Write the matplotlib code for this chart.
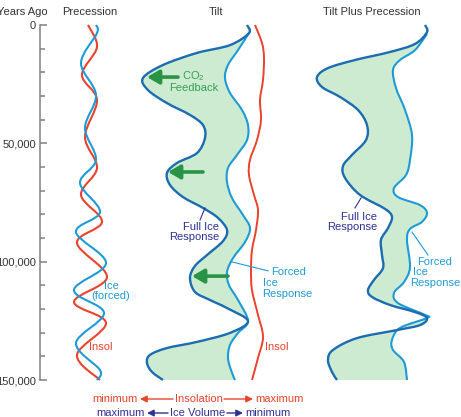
import numpy as np
import matplotlib
matplotlib.use("Agg")
import matplotlib.pyplot as plt
from matplotlib.path import Path
from matplotlib.patches import PathPatch

# ---- data: years ago in thousands, x = relative amount inside each panel ----
# Precession panel
prec_ice_kyr = [0, 3.4, 16.1, 29.6, 43.5, 57.0, 66.8, 79.0, 87.5, 100.6, 112.0, 121.7, 134.4, 145.8, 150]
prec_ice_val = [36, 37, 21, 36, 25, 36, 20, 40, 16, 46, 14, 44, 16, 40, 37]
prec_insol_kyr = [0, 9.3, 21.1, 31.7, 47.3, 60.4, 71.8, 83.2, 92.1, 106.5, 117.0, 125.9, 139.4, 150]
prec_insol_val = [28, 37, 22, 37, 25, 37, 21, 42, 17, 47, 14, 46, 17, 40]

# Tilt panel
tilt_full_kyr = [0, 3.4, 8.5, 11.8, 16.9, 22.4, 27.5, 33.0, 38.0, 42.3, 47.7, 54.1, 58.3, 62.5,
                 67.6, 72.7, 77.3, 81.5, 86.6, 91.3, 97.2, 101.8, 106.9, 112.8, 116.2, 119.6,
                 125.1, 130.1, 133.9, 136.5, 139.4, 142.8, 146.6, 150]
tilt_full_val = [117, 119, 100, 67, 33, 13, 18, 37, 60, 73, 75, 67, 47, 37,
                 40, 53, 73, 88, 97, 93, 77, 65, 60, 65, 80, 97,
                 118, 100, 67, 37, 20, 17, 22, 33]
tilt_forced_kyr = [3.4, 10.6, 16.9, 22.4, 28.7, 35.9, 42.3, 48.6, 54.9, 60.4, 66.3, 73.1, 80.3,
                   85.8, 91.7, 98.5, 104.4, 109.9, 116.2, 125.1, 130.1, 135.2, 140.7, 145.8, 150]
tilt_forced_val = [119, 108, 98, 95, 100, 112, 118, 117, 107, 98, 97, 102, 113,
                   120, 115, 103, 97, 99, 108, 118, 108, 100, 98, 101, 105]
tilt_insol_kyr = [0, 7.6, 13.9, 23.2, 31.7, 40.1, 48.6, 57.0, 63.4, 71.8, 78.2, 86.6, 95.1,
                  103.5, 112.0, 122.5, 131.8, 140.7, 150]
tilt_insol_val = [125, 132, 134, 133, 130, 131, 127, 120, 119, 124, 128, 126, 122,
                  121, 122, 128, 133, 128, 122]
co2_arrow_kyr = [22.0, 62.1, 106.1]
co2_arrow_tip = [17, 38, 62]
co2_arrow_tail = [48, 73, 98]

# Tilt plus precession panel
both_full_kyr = [0, 3.0, 8.0, 11.4, 14.8, 18.2, 22.0, 26.2, 30.4, 35.9, 42.3, 48.6, 54.9, 59.6,
                 64.6, 71.8, 77.7, 81.1, 85.8, 90.8, 97.2, 102.7, 107.7, 112.0, 114.9, 118.3,
                 121.3, 123.8, 126.8, 128.9, 132.3, 137.3, 141.6, 146.6, 150]
both_full_val = [125, 127, 115, 90, 55, 28, 17, 22, 40, 58, 67, 66, 52, 43,
                 45, 60, 85, 92, 88, 81, 82, 83, 74, 68, 72, 90,
                 115, 127, 120, 97, 57, 33, 28, 32, 37]
both_forced_kyr = [3.8, 10.6, 14.8, 19.0, 26.6, 35.9, 46.5, 57.0, 63.4, 68.9, 72.7, 76.1, 79.4,
                   83.2, 86.2, 90.8, 102.3, 108.6, 113.2, 117.5, 122.5, 123.8, 128.0, 133.1,
                   137.3, 142.4, 150]
both_forced_val = [127, 115, 100, 93, 96, 105, 112, 110, 106, 94, 98, 120, 127,
                   122, 110, 107, 110, 104, 94, 98, 125, 127, 100, 92,
                   93, 104, 107]

year_ticks = [0, 50, 100, 150]
year_labels = ["0", "50,000", "100,000", "150,000"]

RED = "#e9432c"
LBLUE = "#1e9bd7"
DBLUE = "#1b6cb0"
FILL = "#cdebd0"
GREEN = "#2a9446"
NAVY = "#2e3192"
GRAY = "#333333"

plt.rcParams['font.family'] = ['Liberation Sans', 'DejaVu Sans']
plt.rcParams['mathtext.fontset'] = 'custom'
plt.rcParams['mathtext.rm'] = 'Liberation Sans'
FS = 8

W, H = 461, 417
fig = plt.figure(figsize=(W / 100, H / 100), dpi=100)
TOP, BOT = 25, 380


def fx(px):
    return px / W


def fy(py):
    return 1 - py / H


def smooth(xs, ys, first=Path.MOVETO):
    # catmull-rom through the read points, drawn as bezier segments
    P = np.column_stack([xs, ys]).astype(float)
    ext = np.vstack([P[0], P, P[-1]])
    verts = [P[0]]
    codes = [first]
    for i in range(len(P) - 1):
        p0, p1, p2, p3 = ext[i], ext[i + 1], ext[i + 2], ext[i + 3]
        verts += [p1 + (p2 - p0) / 6, p2 - (p3 - p1) / 6, p2]
        codes += [Path.CURVE4] * 3
    return verts, codes


def curve(ax, xs, ys, color, lw):
    v, c = smooth(xs, ys)
    ax.add_patch(PathPatch(Path(v, c), fill=False, edgecolor=color, lw=lw,
                           capstyle='butt', joinstyle='round', clip_on=False))


def band(ax, fx_, fy_, rx, ry):
    v1, c1 = smooth(fx_, fy_)
    v2, c2 = smooth(rx[::-1], ry[::-1], first=Path.LINETO)
    v = v1 + v2 + [v1[0]]
    c = c1 + c2 + [Path.CLOSEPOLY]
    ax.add_patch(PathPatch(Path(v, c), facecolor=FILL, edgecolor='none', clip_on=False))


def panel(left, right):
    ax = fig.add_axes([fx(left), fy(BOT), fx(right - left), (BOT - TOP) / H])
    ax.set_xlim(0, right - left)
    ax.set_ylim(150, 0)
    ax.axis('off')
    return ax


# years axis
ax0 = fig.add_axes([fx(40), fy(BOT), fx(420), (BOT - TOP) / H])
ax0.set_ylim(150, 0)
ax0.set_xlim(0, 1)
ax0.patch.set_visible(False)
for s in ['top', 'right', 'bottom']:
    ax0.spines[s].set_visible(False)
ax0.spines['left'].set_color('#808080')
ax0.spines['left'].set_linewidth(1.1)
ax0.set_xticks([])
ax0.set_yticks(year_ticks)
ax0.set_yticklabels(year_labels)
ax0.set_yticks(np.arange(0, 151, 10), minor=True)
ax0.tick_params(axis='y', which='both', direction='in', color='#808080', width=1.1,
                labelsize=FS, labelcolor=GRAY, pad=3)
ax0.tick_params(axis='y', which='major', length=5)
ax0.tick_params(axis='y', which='minor', length=3.5)

fig.text(fx(48), fy(12), "Years Ago", ha='right', va='center', fontsize=FS, color=GRAY)
fig.text(fx(90), fy(12), "Precession", ha='center', va='center', fontsize=FS, color=GRAY)
fig.text(fx(216), fy(12), "Tilt", ha='center', va='center', fontsize=FS, color=GRAY)
fig.text(fx(372), fy(12), "Tilt Plus Precession", ha='center', va='center', fontsize=FS, color=GRAY)

# precession
ax1 = panel(60, 130)
curve(ax1, prec_insol_val, prec_insol_kyr, RED, 1.5)
curve(ax1, prec_ice_val, prec_ice_kyr, LBLUE, 1.5)
ax1.text(51, 110.3, "Ice", color=LBLUE, fontsize=FS, ha='center', va='center')
ax1.text(51, 114.6, "(forced)", color=LBLUE, fontsize=FS, ha='center', va='center')
ax1.text(29, 136.1, "Insol", color=RED, fontsize=FS, ha='left', va='center')

# tilt
ax2 = panel(130, 300)
band(ax2, tilt_full_val, tilt_full_kyr, tilt_forced_val, tilt_forced_kyr)
curve(ax2, tilt_insol_val, tilt_insol_kyr, RED, 1.4)
curve(ax2, tilt_forced_val, tilt_forced_kyr, LBLUE, 1.5)
curve(ax2, tilt_full_val, tilt_full_kyr, DBLUE, 1.7)
for yr, tip, tail in zip(co2_arrow_kyr, co2_arrow_tip, co2_arrow_tail):
    ax2.annotate('', xy=(tip, yr), xytext=(tail, yr),
                 arrowprops=dict(arrowstyle='-|>,head_length=0.6,head_width=0.35',
                                 lw=2.6, color=GREEN, mutation_scale=12,
                                 shrinkA=0, shrinkB=0))
ax2.text(63, 21.6, r"CO$_\mathregular{2}$", color="#35a052", fontsize=FS, ha='center', va='center')
ax2.text(63.5, 26.6, "Feedback", color="#35a052", fontsize=FS, ha='center', va='center')
ax2.text(89, 85.4, "Full Ice", color=NAVY, fontsize=FS, ha='right', va='center')
ax2.text(89, 89.7, "Response", color=NAVY, fontsize=FS, ha='right', va='center')
ax2.plot([70, 75], [82.4, 77.3], color=NAVY, lw=0.8)
ax2.text(141, 104.4, "Forced", color=LBLUE, fontsize=FS, ha='left', va='center')
ax2.text(133, 109.0, "Ice", color=LBLUE, fontsize=FS, ha='left', va='center')
ax2.text(132, 113.7, "Response", color=LBLUE, fontsize=FS, ha='left', va='center')
ax2.plot([102, 138], [100.1, 103.9], color=LBLUE, lw=0.8)
ax2.text(135, 136.1, "Insol", color=RED, fontsize=FS, ha='left', va='center')

# tilt plus precession
ax3 = panel(300, 461)
band(ax3, both_full_val, both_full_kyr, both_forced_val, both_forced_kyr)
curve(ax3, both_forced_val, both_forced_kyr, LBLUE, 1.5)
curve(ax3, both_full_val, both_full_kyr, DBLUE, 1.7)
ax3.text(77, 81.1, "Full Ice", color=NAVY, fontsize=FS, ha='right', va='center')
ax3.text(77, 85.4, "Response", color=NAVY, fontsize=FS, ha='right', va='center')
ax3.plot([55, 61], [77.3, 73.1], color=NAVY, lw=0.8)
ax3.text(117, 100.1, "Forced", color=LBLUE, fontsize=FS, ha='left', va='center')
ax3.text(113, 104.4, "Ice", color=LBLUE, fontsize=FS, ha='left', va='center')
ax3.text(110, 109.0, "Response", color=LBLUE, fontsize=FS, ha='left', va='center')
ax3.plot([112, 128], [87.5, 97.2], color=LBLUE, lw=0.8)

# bottom key
def key(y, left, mid, right, color, a1, a2, a3, a4, lc, rc):
    fig.text(fx(lc), fy(y), left, ha='right', va='center', fontsize=FS, color=color)
    fig.text(fx((a2 + a3) / 2), fy(y), mid, ha='center', va='center', fontsize=FS, color=color)
    fig.text(fx(rc), fy(y), right, ha='left', va='center', fontsize=FS, color=color)
    for xa, xb in [(a2, a1), (a3, a4)]:
        fig.add_artist(matplotlib.patches.FancyArrowPatch(
            (fx(xa), fy(y)), (fx(xb), fy(y)), transform=fig.transFigure,
            arrowstyle='-|>,head_length=0.5,head_width=0.25', mutation_scale=8,
            lw=1.0, color=color, shrinkA=0, shrinkB=0))

key(399, "minimum", "Insolation", "maximum", RED, 140, 173, 224, 253, 138, 255)
key(413, "maximum", "Ice Volume", "minimum", NAVY, 147, 168, 227, 243, 145, 245)

fig.savefig("out.png", dpi=100)
